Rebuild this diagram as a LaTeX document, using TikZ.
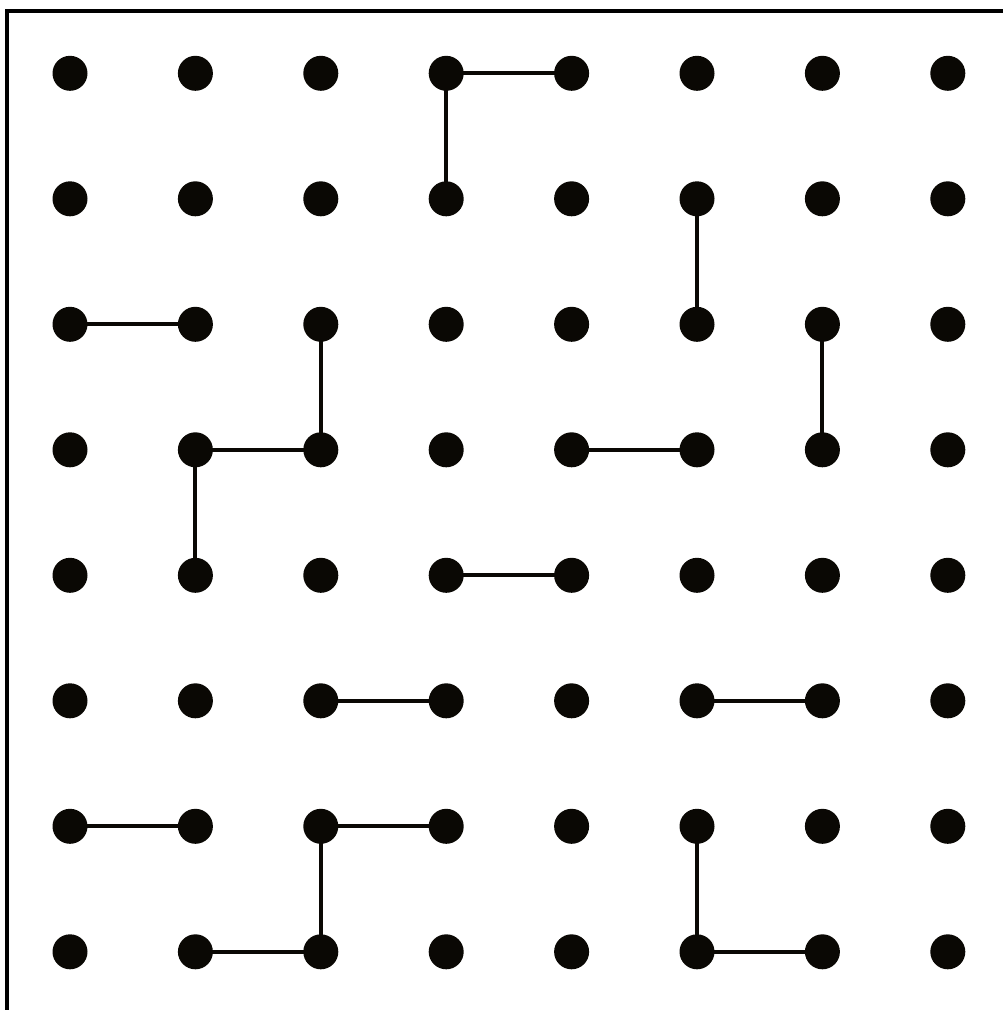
\documentclass[tikz,border=0pt]{standalone}
\begin{document}
\begin{tikzpicture}[x=1pt,y=-1pt,
  dot/.style={circle,fill=dotc,inner sep=0pt,minimum size=35pt},
  link/.style={line width=4pt,draw=dotc},
  frame/.style={line width=4.2pt,draw=black}]
\definecolor{dotc}{HTML}{0A0804}
\useasboundingbox (0,0) rectangle (1003,1010);
\fill[white] (0,0) rectangle (1003,1010);
\draw[frame] (7,1010) -- (7,11) -- (1003,11);
\foreach \r in {0,...,7}{
  \foreach \c in {0,...,7}{
    \coordinate (p-\r-\c) at ({70+125.4*\c},{73.3+125.5*\r});
  }
}
% connectors
\foreach \a/\b in {0-3/0-4,0-3/1-3,1-5/2-5,2-0/2-1,2-2/3-2,2-6/3-6,3-1/3-2,3-1/4-1,3-4/3-5,4-3/4-4,5-2/5-3,5-5/5-6,6-0/6-1,6-2/6-3,6-2/7-2,6-5/7-5,7-1/7-2,7-5/7-6}{
  \draw[link] (p-\a) -- (p-\b);
}
\foreach \r in {0,...,7}{
  \foreach \c in {0,...,7}{
    \node[dot] (d-\r-\c) at (p-\r-\c) {};
  }
}
\end{tikzpicture}
\end{document}
